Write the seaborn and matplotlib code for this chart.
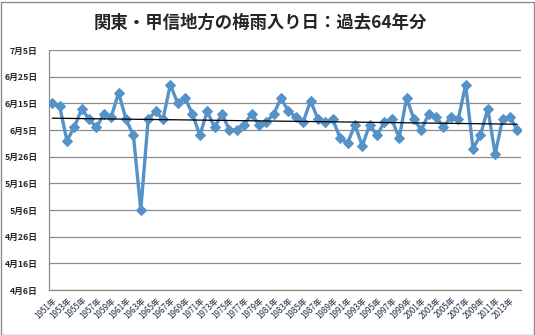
import datetime as dt

import matplotlib
matplotlib.use("Agg")
import matplotlib.pyplot as plt
from matplotlib.patches import Rectangle
import numpy as np
import pandas as pd
import seaborn as sns

# 関東・甲信地方の梅雨入り日 (1951–2014)
years = list(range(1951, 2015))
onset_dates = [
    "6/15", "6/14", "6/1", "6/6", "6/13", "6/9", "6/6", "6/11", "6/10", "6/19",
    "6/9", "6/3", "5/6", "6/9", "6/12", "6/9", "6/22", "6/15", "6/17", "6/11",
    "6/3", "6/12", "6/6", "6/11", "6/5", "6/5", "6/7", "6/11", "6/7", "6/8",
    "6/11", "6/17", "6/12", "6/10", "6/8", "6/16", "6/9", "6/8", "6/9", "6/2",
    "5/31", "6/7", "5/30", "6/7", "6/3", "6/8", "6/9", "6/2", "6/17", "6/9",
    "6/5", "6/11", "6/10", "6/6", "6/10", "6/9", "6/22", "5/29", "6/3", "6/13",
    "5/27", "6/9", "6/10", "6/5",
]
axis_dates = ["4/6", "4/16", "4/26", "5/6", "5/16", "5/26", "6/5", "6/15", "6/25", "7/5"]

BASE = dt.date(2014, 4, 6)


def to_days(md):
    m, d = (int(v) for v in md.split("/"))
    return (dt.date(2014, m, d) - BASE).days


def jp_label(md):
    m, d = md.split("/")
    return f"{m}月{d}日"


df = pd.DataFrame({
    "pos": np.arange(len(years)),
    "year": years,
    "days": [to_days(s) for s in onset_dates],
})

sns.set_style("white")
plt.rcParams["font.family"] = ["Noto Sans CJK JP", "DejaVu Sans"]

fig = plt.figure(figsize=(5.35, 3.35), dpi=100)
W, H = 535, 335
ax = fig.add_axes([48.5 / W, (H - 290) / H, (521 - 48.5) / W, (290 - 50) / H])

line_color = "#5592C8"
tick_days = [to_days(s) for s in axis_dates]
for yv in tick_days:
    ax.axhline(yv, color="#8c8c8c", lw=0.9, zorder=0)

sns.lineplot(data=df, x="pos", y="days", ax=ax, color=line_color, lw=2.4,
             marker="D", markersize=5.5, markeredgecolor=line_color,
             markerfacecolor=line_color, zorder=3)

# linear trend
coef = np.polyfit(df["pos"], df["days"], 1)
xs = np.array([df["pos"].min(), df["pos"].max()])
ax.plot(xs, np.polyval(coef, xs), color="black", lw=0.9, zorder=4)

ax.set_xlim(-0.5, len(years) - 0.5)
ax.set_ylim(tick_days[0], tick_days[-1])
ax.set_yticks(tick_days)
ax.set_yticklabels([jp_label(s) for s in axis_dates], fontsize=6.3, fontweight="bold")

label_pos = df["pos"][::2]
ax.set_xticks(label_pos)
ax.set_xticklabels([f"{y}年" for y in df["year"][::2]], fontsize=5.8,
                   rotation=45, ha="right", va="top", rotation_mode="anchor",
                   color="#1f2a44")
ax.set_xticks(np.arange(-0.5, len(years)), minor=True)
ax.tick_params(axis="x", which="major", length=0, pad=4)
ax.tick_params(axis="x", which="minor", length=3, color="#8c8c8c", width=0.8, direction="out")
ax.tick_params(axis="y", length=0, pad=8)

ax.set_xlabel("")
ax.set_ylabel("")
for side in ["top", "right"]:
    ax.spines[side].set_visible(False)
for side in ["left", "bottom"]:
    ax.spines[side].set_color("#8c8c8c")
    ax.spines[side].set_linewidth(0.9)

fig.text(0.487, 1 - 23 / H, "関東・甲信地方の梅雨入り日：過去64年分",
         ha="center", va="center", fontsize=12.5, fontweight="bold")

fig.patches.append(Rectangle((0.5 / W, 0.5 / H), 533 / W, 333 / H,
                             transform=fig.transFigure, fill=False,
                             edgecolor="#8c8c8c", lw=1.0))

fig.savefig("out.png", dpi=100)
